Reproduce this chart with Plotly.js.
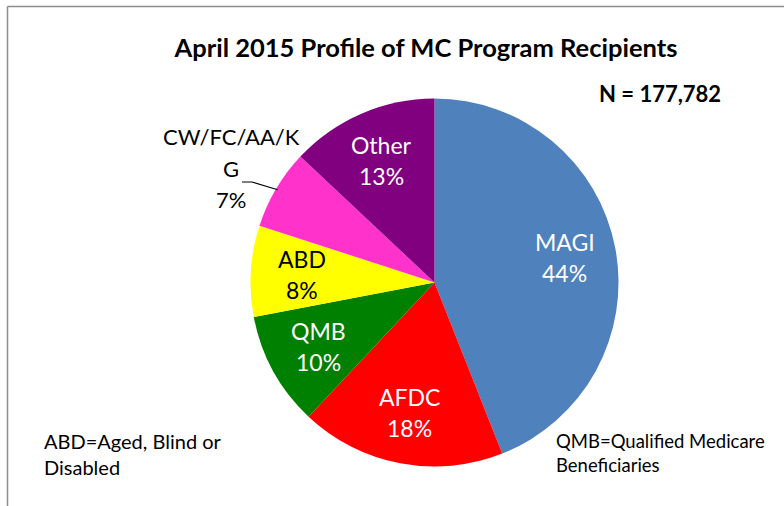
<!DOCTYPE html>
<html>
<head>
<meta charset="utf-8">
<script src="https://cdn.plot.ly/plotly-3.0.1.min.js"></script>
<style>html,body{margin:0;padding:0;background:#fff;}#chart{width:784px;height:506px;}</style>
</head>
<body>
<div id="chart"></div>
<script>
const categories = ["MAGI", "AFDC", "QMB", "ABD", "CW/FC/AA/KG", "Other"];
const labelLines = [["MAGI"], ["AFDC"], ["QMB"], ["ABD"], ["CW/FC/AA/K", "G"], ["Other"]];
const percentValues = [44, 18, 10, 8, 7, 13];
const sliceColors = ["#4F81BD", "#FF0000", "#008000", "#FFFF00", "#FF33CC", "#800080"];
const labelInside = [true, true, true, true, false, true];
const textColors = ["#FFFFFF", "#FFFFFF", "#FFFFFF", "#000000", "#000000", "#FFFFFF"];
const titleText = "April 2015 Profile of MC Program Recipients";
const nText = "N = 177,782";
const noteLeft = "ABD=Aged, Blind or<br>Disabled";
const noteRight = "QMB=Qualified Medicare<br>Beneficiaries";

const FONT = "Lato, 'Open Sans', sans-serif";
const W = 784, H = 506;
// pie placement in pixels
const CX = 434.5, CY = 282.5, R = 184;
const px = v => v / W;
const py = v => 1 - v / H;

const total = percentValues.reduce((a, b) => a + b, 0);
const annotations = [];
const shapes = [];
let cum = 0;
percentValues.forEach((v, i) => {
  const midFrac = (cum + v / 2) / total;
  cum += v;
  const ang = midFrac * 2 * Math.PI; // clockwise from 12 o'clock
  const pctText = Math.round(v / total * 100) + "%";
  if (labelInside[i]) {
    const lx = CX + 0.72 * R * Math.sin(ang);
    const ly = CY - 0.72 * R * Math.cos(ang);
    const lines = labelLines[i].concat([pctText]);
    const n = lines.length;
    lines.forEach((t, k) => {
      annotations.push({text: t, xref: "paper", yref: "paper", x: px(lx), y: py(ly + (k - (n - 1) / 2) * 31),
        xanchor: "center", yanchor: "middle", showarrow: false,
        font: {family: FONT, size: 23, color: textColors[i]}});
    });
  } else {
    // outside label with leader line
    const ex = CX + 0.99 * R * Math.sin(ang);
    const ey = CY - 0.99 * R * Math.cos(ang);
    const lx = 231, ly = 168;
    const lines = labelLines[i].concat([pctText]);
    const n = lines.length;
    lines.forEach((t, k) => {
      annotations.push({text: t, xref: "paper", yref: "paper", x: px(lx), y: py(ly + (k - (n - 1) / 2) * 31.5),
        xanchor: "center", yanchor: "middle", showarrow: false,
        font: {family: FONT, size: 22, color: textColors[i]}});
    });
    shapes.push({type: "path", xref: "paper", yref: "paper",
      path: "M " + px(242) + "," + py(182) + " L " + px(252) + "," + py(182) + " L " + px(ex) + "," + py(ey),
      line: {color: "#000000", width: 1.2}});
  }
});

annotations.push(
  {text: "<b>" + nText + "</b>", xref: "paper", yref: "paper", x: px(660), y: py(93), xanchor: "center", yanchor: "middle", showarrow: false, font: {family: FONT, size: 22, color: "#000"}},
  {text: noteLeft, xref: "paper", yref: "paper", x: px(42), y: py(453.5), xanchor: "left", yanchor: "middle", align: "left", showarrow: false, font: {family: FONT, size: 20, color: "#000"}},
  {text: noteRight, xref: "paper", yref: "paper", x: px(554), y: py(453), xanchor: "left", yanchor: "middle", align: "left", showarrow: false, font: {family: FONT, size: 18.5, color: "#000"}}
);

shapes.push(
  {type: "line", xref: "paper", yref: "paper", x0: px(7.5), x1: 1.05, y0: py(6.5), y1: py(6.5), line: {color: "#8c8c8c", width: 1.5}},
  {type: "line", xref: "paper", yref: "paper", x0: px(7.5), x1: px(7.5), y0: py(6.5), y1: -0.05, line: {color: "#8c8c8c", width: 1.5}}
);

const trace = {
  type: "pie",
  labels: categories,
  values: percentValues,
  sort: false,
  direction: "clockwise",
  rotation: 0,
  marker: {colors: sliceColors, line: {color: "#ffffff", width: 0}},
  textinfo: "none",
  hoverinfo: "label+percent",
  showlegend: false,
  domain: {x: [px(CX - R), px(CX + R)], y: [py(CY + R), py(CY - R)]}
};

const layout = {
  width: W, height: H,
  margin: {l: 0, r: 0, t: 0, b: 0},
  paper_bgcolor: "#ffffff",
  font: {family: FONT, color: "#000000"},
  showlegend: false,
  title: {text: "<b>" + titleText + "</b>", font: {family: FONT, size: 25.5, color: "#000"}, x: px(426), xanchor: "center", y: py(48), yanchor: "middle"},
  annotations: annotations,
  shapes: shapes
};

Plotly.newPlot("chart", [trace], layout, {displayModeBar: false, staticPlot: true});
</script>
</body>
</html>
